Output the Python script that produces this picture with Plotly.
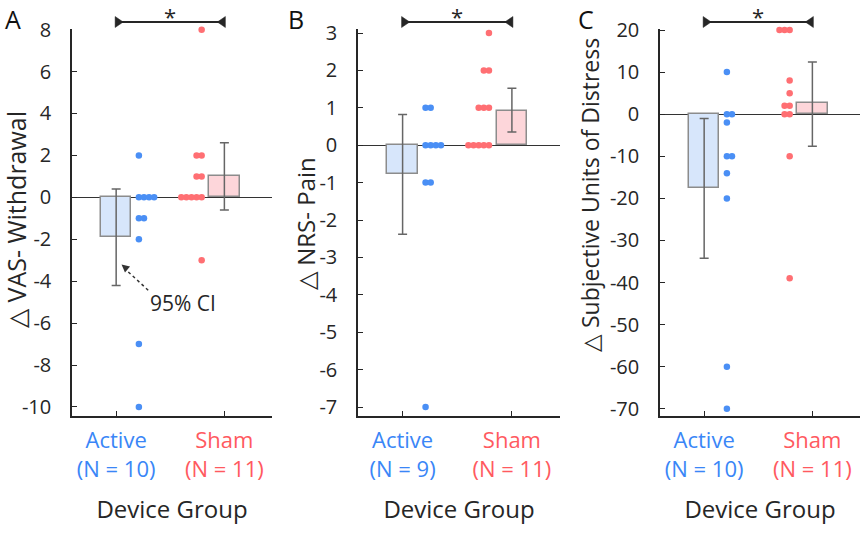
import plotly.graph_objects as go

W, H = 863, 546

groups = ["Active", "Sham"]
n_labels = {"A": ["(N = 10)", "(N = 11)"], "B": ["(N = 9)", "(N = 11)"], "C": ["(N = 10)", "(N = 11)"]}

# Panel A: VAS - Withdrawal
A_active = [2, 0, 0, 0, 0, -1, -1, -2, -7, -10]
A_sham = [8, 2, 2, 1, 1, 0, 0, 0, 0, 0, -3]
A_mean = [-1.9, 1.0]
A_ci_low = [-4.2, -0.6]
A_ci_high = [0.4, 2.6]
A_ticks = [-10, -8, -6, -4, -2, 0, 2, 4, 6, 8]

# Panel B: NRS - Pain
B_active = [1, 1, 0, 0, 0, 0, -1, -1, -7]
B_sham = [3, 2, 2, 1, 1, 1, 0, 0, 0, 0, 0]
B_mean = [-0.78, 0.91]
B_ci_low = [-2.38, 0.35]
B_ci_high = [0.82, 1.52]
B_ticks = [-7, -6, -5, -4, -3, -2, -1, 0, 1, 2, 3]

# Panel C: Subjective Units of Distress
C_active = [10, 0, 0, -2, -10, -10, -14, -20, -60, -70]
C_sham = [20, 20, 20, 8, 5, 2, 2, 0, 0, -10, -39]
C_mean = [-17.6, 2.6]
C_ci_low = [-34.2, -7.6]
C_ci_high = [-1.0, 12.4]
C_ticks = [-70, -60, -50, -40, -30, -20, -10, 0, 10, 20]

# styles
BLUE_DOT = "#4a8ff5"
RED_DOT = "#ff6f73"
BLUE_TXT = "#3a86f7"
RED_TXT = "#ff5a5f"
BAR_FILL = ["#d7e6fb", "#fdd6da"]
EDGE = "#8c8c8c"
AX = "#262626"
FONT = "Open Sans"

panels = [
    dict(key="A", active=A_active, sham=A_sham, mean=A_mean, lo=A_ci_low, hi=A_ci_high,
         ticks=A_ticks, yr=[-10.43, 8.03], xd=[72, 272], title="△ VAS- Withdrawal",
         tx=16, ty=220, tsize=25, lx=13),
    dict(key="B", active=B_active, sham=B_sham, mean=B_mean, lo=B_ci_low, hi=B_ci_high,
         ticks=B_ticks, yr=[-7.24, 3.107], xd=[358, 560], title="△ NRS- Pain",
         tx=305, ty=224, tsize=24, lx=296),
    dict(key="C", active=C_active, sham=C_sham, mean=C_mean, lo=C_ci_low, hi=C_ci_high,
         ticks=C_ticks, yr=[-71.7, 20.24], xd=[660, 860], title="△ Subjective Units of Distress",
         tx=590, ty=195, tsize=23, lx=586),
]

XR = [0.592, 2.44]
Y_TOP, Y_BOT = 29, 416
ydom = [1 - Y_BOT / H, 1 - Y_TOP / H]
STEP = 0.047
OFFSET = 0.21
PXU = 108.0  # approx pixels per x unit

fig = go.Figure()
annotations = []
shapes = []

def swarm(vals, base, direction):
    xs, seen = [], {}
    for v in vals:
        k = seen.get(v, 0)
        seen[v] = k + 1
        xs.append(base + direction * k * STEP)
    return xs

SIG_Y = 1 - 22 / H
TRI_H = 5.5 / H
for i, p in enumerate(panels):
    sfx = "" if i == 0 else str(i + 1)
    xa, ya = "x" + sfx, "y" + sfx
    # bars with CI
    fig.add_trace(go.Bar(
        x=[1, 2], y=p["mean"], width=0.28,
        marker=dict(color=BAR_FILL, line=dict(color=EDGE, width=1.5)),
        error_y=dict(type="data", symmetric=False,
                     array=[h - m for h, m in zip(p["hi"], p["mean"])],
                     arrayminus=[m - l for m, l in zip(p["mean"], p["lo"])],
                     color="#666666", thickness=1.5, width=4.5),
        xaxis=xa, yaxis=ya, showlegend=False, hoverinfo="skip"))
    # dots
    fig.add_trace(go.Scatter(
        x=swarm(p["active"], 1 + OFFSET, 1), y=p["active"], mode="markers",
        marker=dict(color=BLUE_DOT, size=6.5), cliponaxis=False,
        xaxis=xa, yaxis=ya, showlegend=False))
    fig.add_trace(go.Scatter(
        x=swarm(p["sham"], 2 - OFFSET, -1), y=p["sham"], mode="markers",
        marker=dict(color=RED_DOT, size=6.5), cliponaxis=False,
        xaxis=xa, yaxis=ya, showlegend=False))
    # significance bar
    shapes.append(dict(type="line", xref=xa, yref="paper", x0=1, x1=2, y0=SIG_Y, y1=SIG_Y,
                       line=dict(color=AX, width=1.8)))
    a0, a1 = 1 - 1 / PXU, 1 + 7 / PXU
    shapes.append(dict(type="path", xref=xa, yref="paper",
                       path=f"M {a0},{SIG_Y + TRI_H} L {a0},{SIG_Y - TRI_H} L {a1},{SIG_Y} Z",
                       fillcolor=AX, line=dict(color=AX, width=0.5)))
    b0, b1 = 2 + 1 / PXU, 2 - 7 / PXU
    shapes.append(dict(type="path", xref=xa, yref="paper",
                       path=f"M {b0},{SIG_Y + TRI_H} L {b0},{SIG_Y - TRI_H} L {b1},{SIG_Y} Z",
                       fillcolor=AX, line=dict(color=AX, width=0.5)))
    annotations.append(dict(x=1.5, y=1.0, xref=xa, yref="paper", text="*",
                            showarrow=False, yanchor="top", borderpad=0,
                            font=dict(size=22, color=AX, family=FONT)))
    dom = [p["xd"][0] / W, p["xd"][1] / W]
    ticktext = [
        f"<span style='color:{BLUE_TXT}'>Active</span><br><span style='color:{BLUE_TXT}'>{n_labels[p['key']][0]}</span>",
        f"<span style='color:{RED_TXT}'>Sham</span><br><span style='color:{RED_TXT}'>{n_labels[p['key']][1]}</span>",
    ]
    fig.update_layout(**{
        ("xaxis" + sfx): dict(domain=dom, range=XR, tickvals=[1, 2], ticktext=ticktext,
                              ticks="inside", ticklen=5, tickcolor=AX, showline=True,
                              linecolor=AX, linewidth=1.5, showgrid=False, zeroline=False,
                              anchor=ya, automargin=False, ticklabelstandoff=4,
                              tickfont=dict(size=22, family=FONT),
                              title=dict(text="Device Group", standoff=19,
                                         font=dict(size=24, color=AX, family=FONT))),
        ("yaxis" + sfx): dict(domain=ydom, range=p["yr"], tickvals=p["ticks"],
                              ticktext=[str(t) for t in p["ticks"]],
                              ticks="inside", ticklen=5, tickcolor=AX, showline=True,
                              linecolor=AX, linewidth=1.5, showgrid=False,
                              zeroline=True, zerolinecolor="#333333", zerolinewidth=1.3,
                              anchor=xa, automargin=False, ticklabelstandoff=15,
                              tickfont=dict(size=20, color=AX, family=FONT)),
    })
    annotations.append(dict(x=p["tx"] / W, y=1 - p["ty"] / H, xref="paper", yref="paper",
                            text=p["title"], textangle=-90, showarrow=False,
                            xanchor="center", yanchor="middle",
                            font=dict(size=p["tsize"], color=AX, family=FONT)))
    annotations.append(dict(x=p["lx"] / W, y=1.0, xref="paper", yref="paper",
                            text=p["key"], showarrow=False, xanchor="center", yanchor="top",
                            font=dict(size=25, color="#111111", family=FONT)))

# 95% CI callout in panel A
shapes.append(dict(type="line", xref="x", yref="y", x0=1.296, y0=-4.43, x1=1.075, y1=-3.38,
                   line=dict(color="#333333", width=1.5, dash="dot")))
annotations.append(dict(x=1.05, y=-3.2, xref="x", yref="y", ax=1.1, ay=-3.42, axref="x", ayref="y",
                        text="", showarrow=True, arrowhead=2, arrowsize=1.2, arrowwidth=1.3,
                        arrowcolor="#333333"))
annotations.append(dict(x=1.62, y=-5.05, xref="x", yref="y", text="95% CI", showarrow=False,
                        font=dict(size=21, color=AX, family=FONT)))

fig.update_layout(width=W, height=H, margin=dict(l=0, r=0, t=0, b=0),
                  paper_bgcolor="white", plot_bgcolor="white", bargap=0,
                  annotations=annotations, shapes=shapes,
                  font=dict(family=FONT, color=AX))
fig.write_html("out.html", config={"displayModeBar": False},
               post_script="document.body.style.margin='0';document.body.style.overflow='hidden';")
